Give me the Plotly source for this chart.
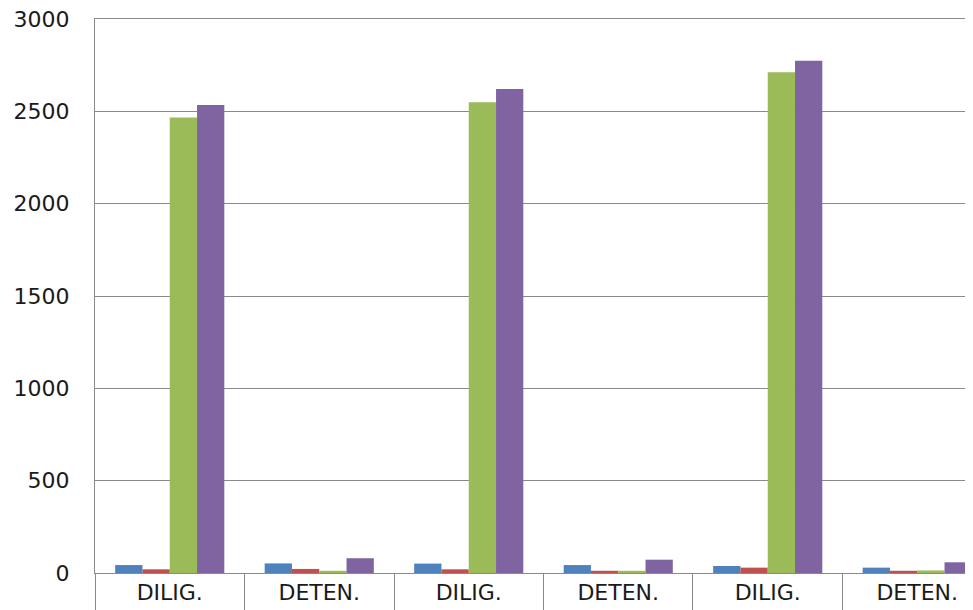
import plotly.graph_objects as go

categories = ["DILIG.", "DETEN.", "DILIG.", "DETEN.", "DILIG.", "DETEN."]
series_a = [43, 52, 51, 43, 38, 29]
series_b = [20, 22, 20, 12, 29, 12]
series_c = [2466, 12, 2549, 12, 2711, 14]
series_d = [2534, 80, 2621, 72, 2774, 58]
y_ticks = [0, 500, 1000, 1500, 2000, 2500, 3000]

series = [
    ("Serie 1", series_a, "#4F81BD"),
    ("Serie 2", series_b, "#C0504D"),
    ("Serie 3", series_c, "#9BBB59"),
    ("Serie 4", series_d, "#8064A2"),
]

x = list(range(len(categories)))
boundaries = [i - 0.5 for i in range(len(categories) + 1)]

fig = go.Figure()
for name, vals, color in series:
    fig.add_trace(go.Bar(x=x, y=vals, name=name, marker=dict(color=color, line=dict(width=0))))

grid = "#8a8a8a"
font = dict(family="DejaVu Sans", size=22, color="#1a1a1a")

# page body has an 8px default margin, so the figure is shrunk to fill 973x610
fig.update_layout(
    width=965, height=602,
    margin=dict(l=87, r=0, t=11, b=37, pad=0),
    paper_bgcolor="white", plot_bgcolor="white",
    barmode="group", bargap=0.27, bargroupgap=0,
    showlegend=False,
    font=font,
)
fig.update_xaxes(
    range=[-0.5, 5.373],
    tickmode="array", tickvals=x, ticktext=categories,
    ticks="", showgrid=False, zeroline=False,
    showline=True, mirror=True, linecolor=grid, linewidth=1,
    tickfont=font, ticklabelstandoff=0, automargin=False,
    minor=dict(tickmode="array", tickvals=boundaries, ticks="outside",
               ticklen=40, tickcolor=grid, tickwidth=1, showgrid=False),
)
fig.update_yaxes(
    range=[0, 3000],
    tickmode="array", tickvals=y_ticks,
    showgrid=True, gridcolor=grid, gridwidth=1,
    zeroline=False, showline=True, linecolor=grid, linewidth=1,
    ticks="", tickfont=font, ticklabelstandoff=20, automargin=False,
    ticklabeloverflow="allow",
)

fig.write_html("out.html")
